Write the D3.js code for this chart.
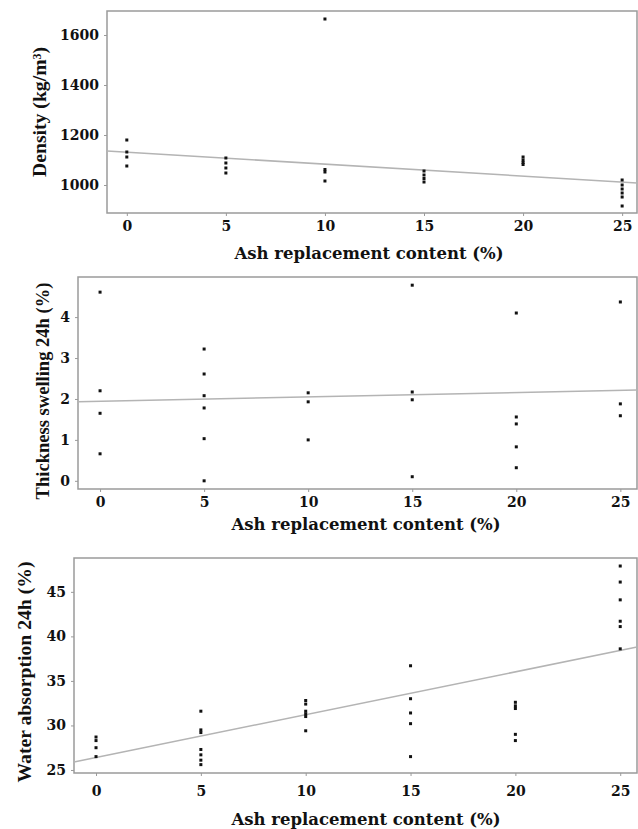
<!DOCTYPE html>
<html>
<head>
<meta charset="utf-8">
<script src="https://cdn.jsdelivr.net/npm/d3@7/dist/d3.min.js"></script>
<style>
  html, body { margin: 0; padding: 0; background: #fff; }
  svg { display: block; }
</style>
</head>
<body>
<svg id="chart" width="638" height="829"></svg>
<script>
// ---------- DATA ----------
const xTicks = [0, 5, 10, 15, 20, 25];
const xTitle = "Ash replacement content (%)";

// Density (kg/m3)
const densityX = [0,0,0,0, 5,5,5,5, 10,10,10,10, 15,15,15,15, 20,20,20,20, 25,25,25,25,25,25];
const densityY = [1180,1132,1112,1076, 1108,1088,1068,1048, 1664,1062,1052,1016, 1056,1040,1026,1012, 1112,1100,1090,1082, 1020,1000,984,968,952,916];
const densityTicks = [1000, 1200, 1400, 1600];
const densityFit = [1136, 1008];   // fitted value at left / right edge of x range

// Thickness swelling 24h (%)
const tsX = [0,0,0,0, 5,5,5,5,5,5, 10,10,10, 15,15,15,15, 20,20,20,20,20, 25,25,25];
const tsY = [4.61,2.2,1.65,0.66, 3.22,2.61,2.08,1.78,1.03,0.0, 2.15,1.93,1.0, 4.78,2.17,1.98,0.1, 4.1,1.56,1.39,0.83,0.32, 4.37,1.88,1.59];
const tsTicks = [0, 1, 2, 3, 4];
const tsFit = [1.93, 2.22];

// Water absorption 24h (%)
const waX = [0,0,0,0, 5,5,5,5,5,5,5, 10,10,10,10,10,10, 15,15,15,15,15, 20,20,20,20,20, 25,25,25,25,25,25];
const waY = [28.7,28.3,27.5,26.5, 31.6,29.5,29.2,27.3,26.7,26.1,25.6, 32.8,32.4,31.6,31.3,31.0,29.4, 36.7,33.0,31.4,30.2,26.5, 32.6,32.2,31.9,29.0,28.3, 47.9,46.1,44.1,41.7,41.1,38.6];
const waTicks = [25, 30, 35, 40, 45];
const waFit = [25.9, 38.8];

// ---------- LAYOUT ----------
const FONT = '"DejaVu Serif", "Liberation Serif", serif';
const FONT_Y = '"Liberation Serif", "DejaVu Serif", serif';
const panels = [
  { x: densityX, y: densityY, ticks: densityTicks, fit: densityFit,
    left: 107, top: 11, bottom: 213, right: 637,
    xDom: [-1.0, 25.75], yDom: [888, 1696],
    title: "Density (kg/m", sup: "3", titleEnd: ")", titleX: 40, titleY: 112, titleLen: 130,
    xTickY: 226, xTitleX: 369, xTitleY: 259 },
  { x: tsX, y: tsY, ticks: tsTicks, fit: tsFit,
    left: 78, top: 277, bottom: 489, right: 637,
    xDom: [-1.06, 25.8], yDom: [-0.2, 4.98],
    title: "Thickness swelling 24h (%)", titleX: 43, titleY: 391, titleLen: 217,
    xTickY: 502, xTitleX: 366, xTitleY: 530 },
  { x: waX, y: waY, ticks: waTicks, fit: waFit,
    left: 74, top: 558, bottom: 773, right: 637,
    xDom: [-1.05, 25.8], yDom: [24.66, 48.8],
    title: "Water absorption 24h (%)", titleX: 25, titleY: 672, titleLen: 221,
    xTickY: 791, xTitleX: 366, xTitleY: 825 }
];

const svg = d3.select("#chart");
const borderColor = "#9a9a9a";
const textStyle = sel => sel.style("font-family", FONT).style("font-weight", "bold").style("fill", "#111");

panels.forEach(p => {
  const xs = d3.scaleLinear().domain(p.xDom).range([p.left, p.right]);
  const ys = d3.scaleLinear().domain(p.yDom).range([p.bottom, p.top]);
  const g = svg.append("g");

  // frame
  g.append("rect")
    .attr("x", p.left).attr("y", p.top)
    .attr("width", p.right - p.left).attr("height", p.bottom - p.top)
    .attr("fill", "none").attr("stroke", borderColor).attr("stroke-width", 1.5);

  // y axis
  const ya = g.append("g").attr("transform", `translate(${p.left},0)`)
    .call(d3.axisLeft(ys).tickValues(p.ticks).tickSize(3).tickPadding(5).tickFormat(d3.format("d")));
  ya.select(".domain").remove();
  ya.selectAll(".tick line").attr("stroke", borderColor);
  ya.selectAll(".tick text").call(textStyle).style("font-size", "14px");

  // x axis
  const xa = g.append("g").attr("transform", `translate(0,${p.bottom})`)
    .call(d3.axisBottom(xs).tickValues(xTicks).tickSize(3).tickPadding(0).tickFormat(d3.format("d")));
  xa.select(".domain").remove();
  xa.selectAll(".tick line").attr("stroke", borderColor);
  xa.selectAll(".tick text").call(textStyle).style("font-size", "14px")
    .attr("dy", null).attr("y", p.xTickY - p.bottom + 5);

  // fit line
  g.append("line")
    .attr("x1", xs(p.xDom[0])).attr("y1", ys(p.fit[0]))
    .attr("x2", xs(p.xDom[1])).attr("y2", ys(p.fit[1]))
    .attr("stroke", "#b4b4b4").attr("stroke-width", 1.5);

  // points
  g.selectAll("rect.pt").data(p.x.map((v, i) => [v, p.y[i]])).enter()
    .append("rect").attr("class", "pt")
    .attr("x", d => xs(d[0]) - 1.5).attr("y", d => ys(d[1]) - 1.5)
    .attr("width", 3).attr("height", 3).attr("fill", "#111");

  // x title
  g.append("text").attr("x", p.xTitleX).attr("y", p.xTitleY)
    .attr("text-anchor", "middle").call(textStyle).style("font-size", "16.5px").text(xTitle);

  // y title
  const t = g.append("text")
    .attr("transform", `translate(${p.titleX + 6},${p.titleY}) rotate(-90)`)
    .attr("text-anchor", "middle").call(textStyle)
    .style("font-family", FONT_Y).style("font-size", "16px");
  t.append("tspan").text(p.title);
  if (p.sup) {
    t.append("tspan").style("font-size", "0.6em").attr("dy", "-0.45em").text(p.sup);
    t.append("tspan").attr("dy", "0.27em").text(p.titleEnd);
  }
  // scale font so the title has the same length as in the reference
  const w = t.node().getComputedTextLength();
  const fs = 16 * p.titleLen / w;
  t.style("font-size", fs.toFixed(2) + "px");
});
</script>
</body>
</html>
